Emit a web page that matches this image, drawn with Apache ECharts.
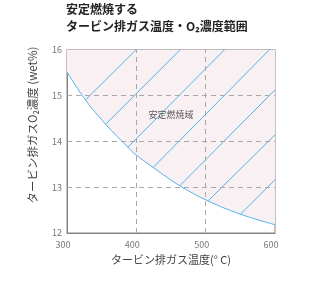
<!DOCTYPE html>
<html><head><meta charset="utf-8">
<script src="https://cdn.jsdelivr.net/npm/echarts@6/dist/echarts.min.js"></script>
<style>html,body{margin:0;padding:0;background:#fff}#c{width:310px;height:300px}</style>
</head><body><div id="c"></div>
<script>
const xTicks = [300, 400, 500, 600];
const yTicks = [12, 13, 14, 15, 16];
const xGrid = [400, 500];
const yGrid = [13, 14, 15];
const curveX = [300, 326.6, 355.7, 387.8, 398, 424.3, 462.7, 503.5, 550.2, 600];
const curveY = [15.51, 14.90, 14.37, 13.87, 13.72, 13.43, 13.03, 12.70, 12.41, 12.18];
const hatchStart = [[326.6,14.90],[355.7,14.37],[387.8,13.87],[424.3,13.43],[462.7,13.03],[503.5,12.70],[550.2,12.41]];
const hatchEnd = [[400,16],[463.5,16],[527.5,16],[592.3,16],[600,15.12],[600,14.14],[600,13.16]];
const regionLabel = '安定燃焼域';
const regionLabelPos = [450, 14.59];
const yName = 'タービン排ガスO₂濃度 (wet%)';

const chart = echarts.init(document.getElementById('c'), null, {renderer:'canvas'});
const font = '"Noto Sans CJK JP", "Noto Sans", sans-serif';
const blue = '#52b3e8';
const gridStyle = {type:[5,4], color:'#a8a8a8', width:1};
const series = [{
  type:'line', data: curveX.map((x,i)=>[x,curveY[i]]), smooth:0.4, symbol:'none',
  color: blue,
  lineStyle:{color:blue, width:1},
  areaStyle:{origin:'end', color:'#f9f0f4', opacity:1},
  z:2,
  markLine:{silent:true, symbol:'none', label:{show:false}, lineStyle:gridStyle, animation:false,
    data: xGrid.map(v=>({xAxis:v})).concat(yGrid.map(v=>({yAxis:v})))}
}, {
  type:'lines', coordinateSystem:'cartesian2d', silent:true, z:3,
  lineStyle:{color:blue, width:1, opacity:1, curveness:0},
  data: hatchStart.map((s,i)=>({coords:[s, hatchEnd[i]]}))
}, {
  type:'scatter', data:[regionLabelPos], symbolSize:0, silent:true,
  label:{show:true, formatter:regionLabel, position:'inside', fontSize:9, color:'#333', fontFamily:font}, z:4
}];

chart.setOption({
  animation:false,
  textStyle:{fontFamily:font},
  title:{text:'安定燃焼する\nタービン排ガス温度・O₂濃度範囲', left:61, top:-4,
    textStyle:{fontSize:12, fontWeight:'bold', color:'#222', lineHeight:17, fontFamily:font}},
  grid:{left:67, right:35, top:49.5, bottom:67, show:true, borderColor:'#8a8282', borderWidth:1},
  graphic:[{type:'text', x:33, y:125, rotation:Math.PI/2,
    style:{text:yName, fontSize:11.5, fill:'#444', fontFamily:font, align:'center', verticalAlign:'middle'}}],
  xAxis:{type:'value', min:300, max:600, interval:100,
    name:'タービン排ガス温度(° C)', nameLocation:'middle', nameGap:20,
    nameTextStyle:{fontSize:11, color:'#444', fontFamily:font},
    axisLine:{show:true, lineStyle:{color:'#8a8282'}}, axisTick:{show:false},
    axisLabel:{fontSize:9, color:'#777', margin:7, padding:[0,8,0,0],
      formatter:v=>xTicks.includes(v)?String(v):''},
    splitLine:{show:false}},
  yAxis:{type:'value', min:12, max:16, interval:1,
    axisLine:{show:true, lineStyle:{color:'#8a8282'}}, axisTick:{show:false},
    axisLabel:{fontSize:9, color:'#777', margin:5,
      formatter:v=>yTicks.includes(v)?String(v):''},
    splitLine:{show:false}},
  series
});
</script></body></html>
